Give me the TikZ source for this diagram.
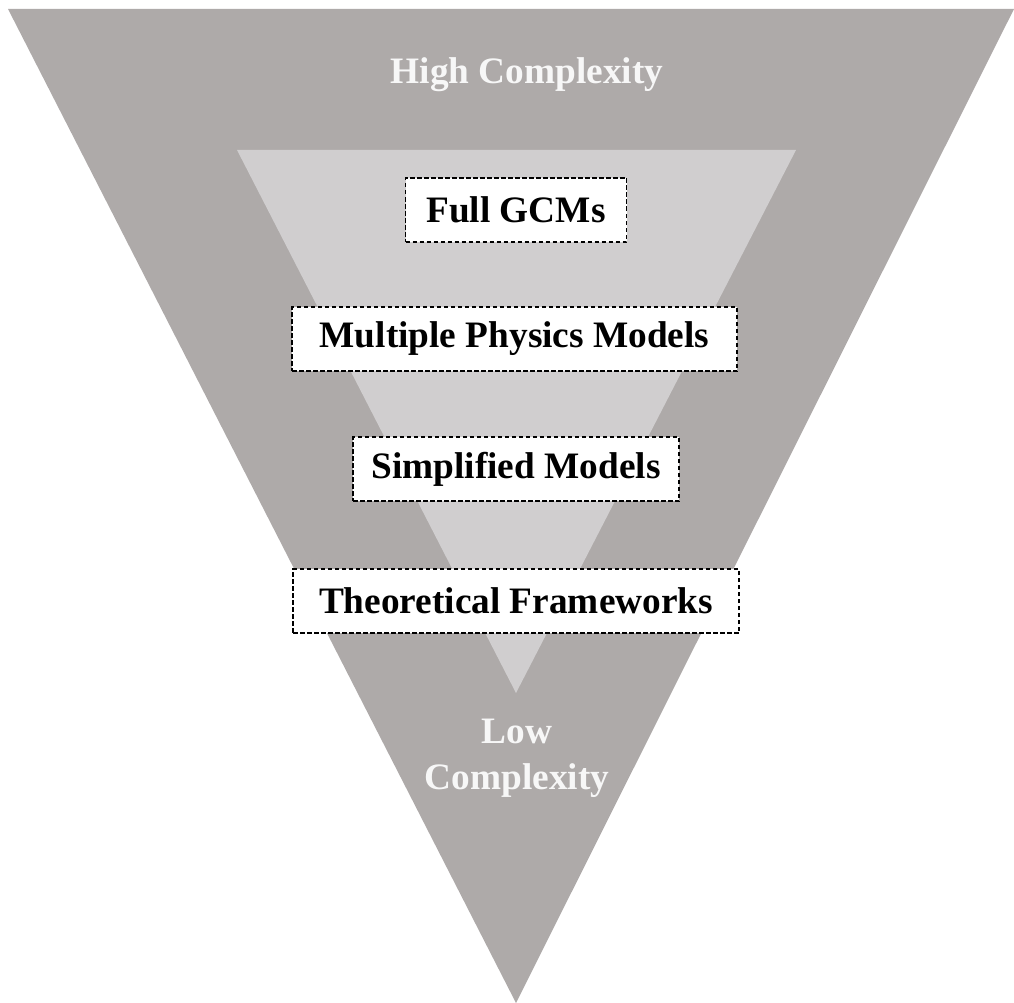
\documentclass[tikz,border=0pt]{standalone}
\usepackage{fontspec}
\setmainfont{Liberation Serif}
\definecolor{outergray}{HTML}{AEAAA9}
\definecolor{innergray}{HTML}{D0CECF}
\definecolor{lighttext}{HTML}{F7F7F7}
\tikzset{
  level/.style={draw=black, dash pattern=on 4.5pt off 2.5pt, line width=1.1pt, fill=white,
    font=\fontsize{37.3}{42}\selectfont\bfseries, inner xsep=4pt, minimum height=64pt, inner ysep=0pt},
  caption/.style={font=\fontsize{37.3}{46}\selectfont\bfseries, text=lighttext, align=center},
}
\begin{document}
\begin{tikzpicture}[x=1pt,y=-1pt]
\useasboundingbox (0,0) rectangle (1014,1003);
\fill[outergray] (8,9) coordinate (otl) -- (1014,9) coordinate (otr) -- (516,1003) coordinate (obot) -- cycle;
\fill[innergray] (237,150) coordinate (itl) -- (796,150) coordinate (itr) -- (516,693) coordinate (ibot) -- cycle;
\node[caption] (high) at (527,75) {High Complexity};
\node[caption] (low) at (517,758) {Low\\Complexity};
\node[level, minimum width=221pt] (gcm) at (516,210) {Full GCMs};
\node[level, minimum width=445pt] (mpm) at (514.5,339) {Multiple Physics Models};
\node[level, minimum width=326pt] (simp) at (516,469) {Simplified Models};
\node[level, minimum width=446pt] (theo) at (516,601) {Theoretical Frameworks};
\end{tikzpicture}
\end{document}
